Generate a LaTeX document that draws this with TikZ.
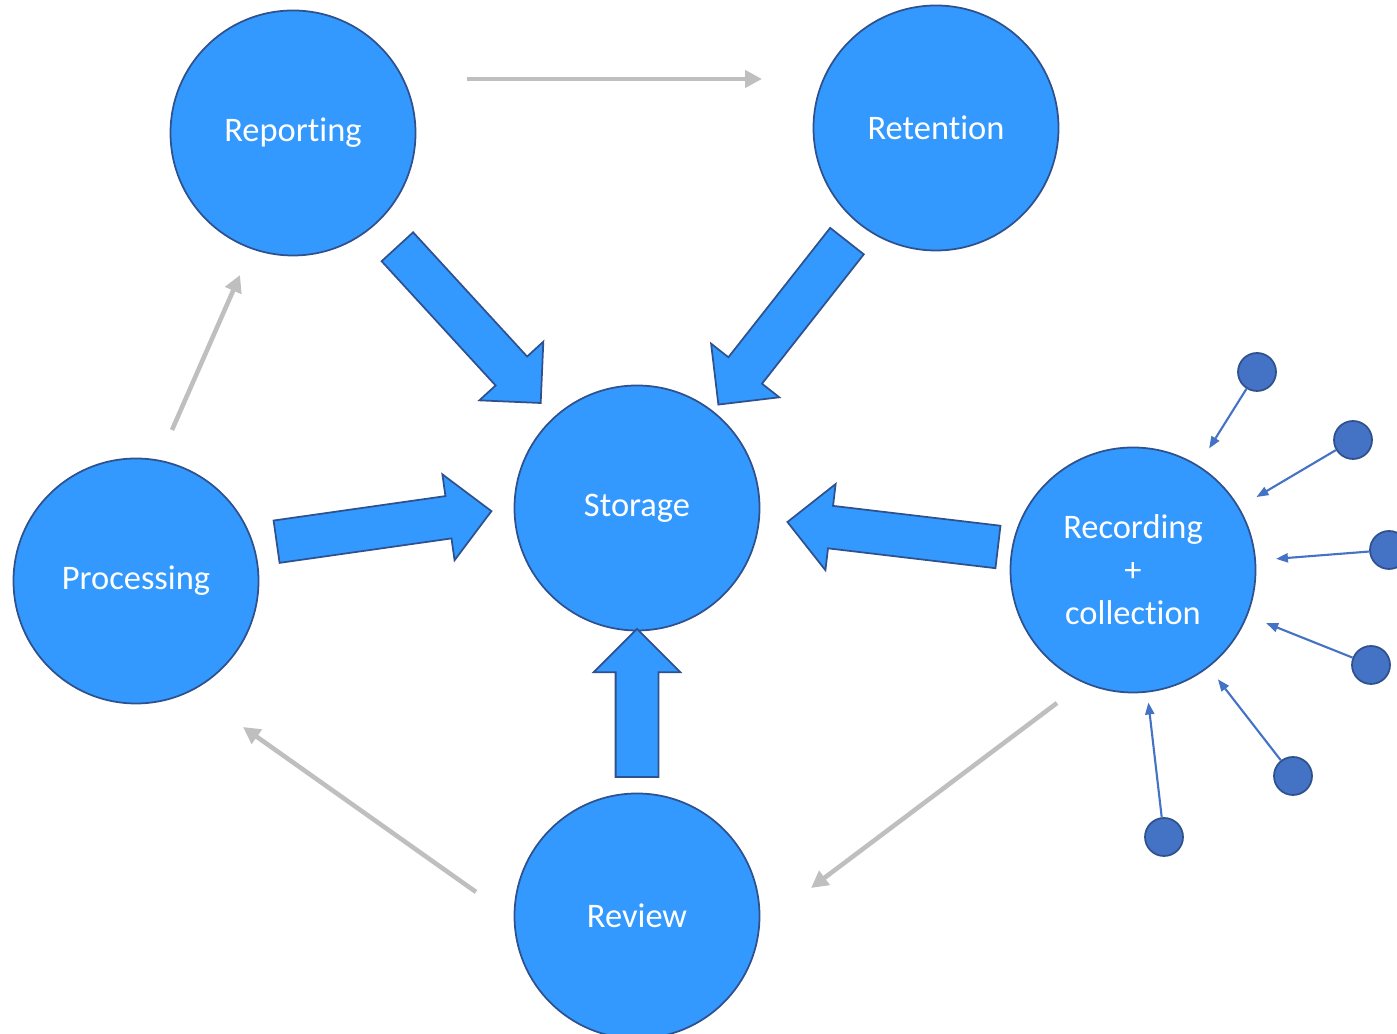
\documentclass[tikz,border=0pt]{standalone}
\usepackage{fontspec}
\setmainfont{Carlito}[Ligatures=NoCommon]
\usepackage{xcolor}
\definecolor{stageblue}{RGB}{51,153,255}
\definecolor{stageedge}{RGB}{47,82,143}
\definecolor{dotblue}{RGB}{68,114,196}
\definecolor{flowgray}{RGB}{191,191,191}
\usetikzlibrary{arrows.meta, shapes.arrows, calc}

\tikzset{
  stage/.style={circle, fill=stageblue, draw=stageedge, line width=0.5pt, minimum size=2.45cm, inner sep=0pt, text=white, font=\fontsize{9.8}{12.2}\selectfont, align=center},
  bigarrow/.style={single arrow, fill=stageblue, draw=stageedge, line width=0.5pt, minimum width=0.85cm, single arrow head extend=0.22cm, inner xsep=0pt, inner ysep=0.205cm, sloped, allow upside down},
  cyclearrow/.style={flowgray, line width=1.3pt, -{Triangle[length=0.17cm, width=0.17cm]}},
  source/.style={circle, fill=dotblue, draw=stageedge, line width=0.5pt, minimum size=0.38cm, inner sep=0pt},
  feed/.style={dotblue, line width=0.6pt, -{Triangle[length=0.12cm, width=0.09cm]}, shorten >=0.2cm}
}

\begin{document}
\begin{tikzpicture}
  \useasboundingbox (0,0) rectangle (13.97,10.34);
  % Stages
  \node[stage] (reporting) at (2.93,9.01) {Reporting};
  \node[stage] (retention) at (9.36,9.06) {Retention};
  \node[stage] (storage) at (6.37,5.26) {Storage};
  \node[stage] (processing) at (1.36,4.53) {Processing};
  \node[stage] (recording) at (11.33,4.64) {Recording\\+\\collection};
  \node[stage] (review) at (6.37,1.18) {Review};

  % Block arrows into storage
  \path (reporting) -- (storage) node[bigarrow, pos=0.482, minimum height=2.12cm] {};
  \path (retention) -- (storage) node[bigarrow, pos=0.481, minimum height=2.08cm] {};
  \path (processing.17) -- (storage.180) node[bigarrow, pos=0.46, minimum height=2.17cm] {};
  \path (recording.170) -- (storage.-5) node[bigarrow, pos=0.43, minimum height=2.12cm] {};
  \path (review) -- (storage) node[bigarrow, pos=0.49, minimum height=1.48cm] {};

  % Gray cycle
  \coordinate (g1s) at (4.67,9.55);
  \coordinate (g1e) at (7.62,9.55);
  \coordinate (g2s) at (1.72,6.04);
  \coordinate (g2e) at (2.40,7.59);
  \coordinate (g3s) at (4.76,1.42);
  \coordinate (g3e) at (2.43,3.07);
  \coordinate (g4s) at (10.57,3.31);
  \coordinate (g4e) at (8.11,1.46);
  \draw[cyclearrow] (g1s) -- (g1e);
  \draw[cyclearrow] (g2s) -- (g2e);
  \draw[cyclearrow] (g3s) -- (g3e);
  \draw[cyclearrow] (g4s) -- (g4e);

  % Sources feeding recording
  \node[source] (src1) at (12.57,6.62) {};
  \node[source] (src2) at (13.53,5.94) {};
  \node[source] (src3) at (13.89,4.84) {};
  \node[source] (src4) at (13.71,3.69) {};
  \node[source] (src5) at (12.93,2.58) {};
  \node[source] (src6) at (11.64,1.97) {};
  \draw[feed] (src1) -- (recording);
  \draw[feed] (src2) -- (recording);
  \draw[feed] (src3) -- (recording);
  \draw[feed] (src4) -- (recording);
  \draw[feed, shorten >=0.15cm] (src5) -- (recording);
  \draw[feed, shorten >=0.1cm] (src6) -- (recording);
\end{tikzpicture}
\end{document}
